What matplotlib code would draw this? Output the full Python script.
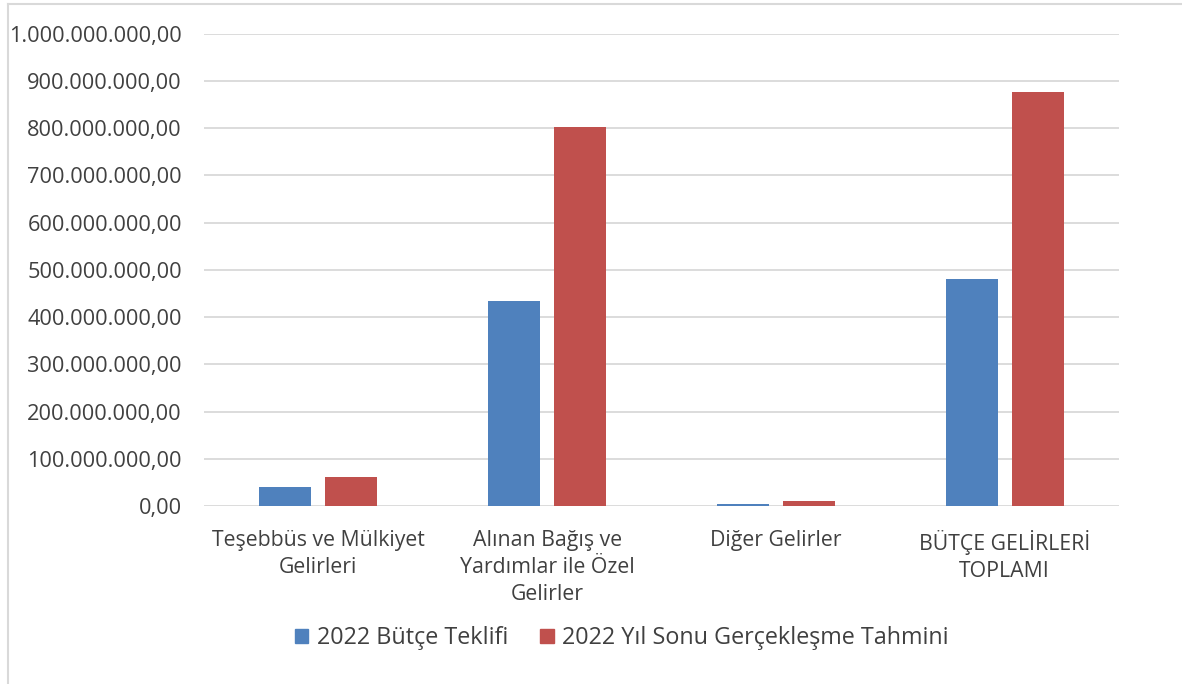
import matplotlib.pyplot as plt
import matplotlib.ticker as mticker
from matplotlib.lines import Line2D
import numpy as np

plt.rcParams['font.family'] = ['Open Sans', 'DejaVu Sans']

categories = ['Teşebbüs ve Mülkiyet\nGelirleri',
              'Alınan Bağış ve\nYardımlar ile Özel\nGelirler',
              'Diğer Gelirler',
              'BÜTÇE GELİRLERİ\nTOPLAMI']
teklif = [39_600_000, 433_000_000, 5_000_000, 480_700_000]
tahmin = [60_800_000, 802_000_000, 10_600_000, 876_700_000]
series_names = ['2022 Bütçe Teklifi', '2022 Yıl Sonu Gerçekleşme Tahmini']

blue = '#4F81BD'
red = '#C0504D'
text_c = '#404040'

fig = plt.figure(figsize=(11.82, 6.84), dpi=100)
ax = fig.add_axes([0.1726, 0.2602, 0.9467 - 0.1726, 0.951 - 0.2602])

x = np.arange(len(categories))
w = 0.227
off = 0.144
ax.bar(x - off, teklif, w, color=blue, label=series_names[0])
ax.bar(x + off, tahmin, w, color=red, label=series_names[1])

ax.set_xlim(-0.5, len(categories) - 0.5)
ax.set_ylim(0, 1e9)
ax.yaxis.set_major_locator(mticker.MultipleLocator(1e8))

def fmt(v, pos):
    s = f'{v:,.2f}'
    return s.replace(',', 'X').replace('.', ',').replace('X', '.')

ax.yaxis.set_major_formatter(mticker.FuncFormatter(fmt))
ax.grid(axis='y', color='#D9D9D9', linewidth=1.3)
ax.set_axisbelow(True)
for s in ax.spines.values():
    s.set_visible(False)
ax.tick_params(axis='both', length=0, colors=text_c)
ax.tick_params(axis='y', pad=16, labelsize=15.7)
ax.tick_params(axis='x', pad=17, labelsize=15.3)
ax.set_xticks(x)
ax.set_xticklabels(categories, linespacing=1.4)

handles = [plt.Rectangle((0, 0), 1, 1, color=blue), plt.Rectangle((0, 0), 1, 1, color=red)]
fig.legend(handles, series_names, loc='center', bbox_to_anchor=(0.526, 1 - 638 / 684),
           ncol=2, frameon=False, fontsize=16.8, handlelength=0.56, handleheight=0.56,
           handletextpad=0.35, columnspacing=1.4, labelcolor=text_c)

# outer chart frame
fig.add_artist(Line2D([8 / 1182, 1], [1 - 4 / 684, 1 - 4 / 684], color='#D9D9D9', lw=1.5))
fig.add_artist(Line2D([8 / 1182, 8 / 1182], [0, 1 - 4 / 684], color='#D9D9D9', lw=1.5))

fig.savefig('out.png', dpi=100)
